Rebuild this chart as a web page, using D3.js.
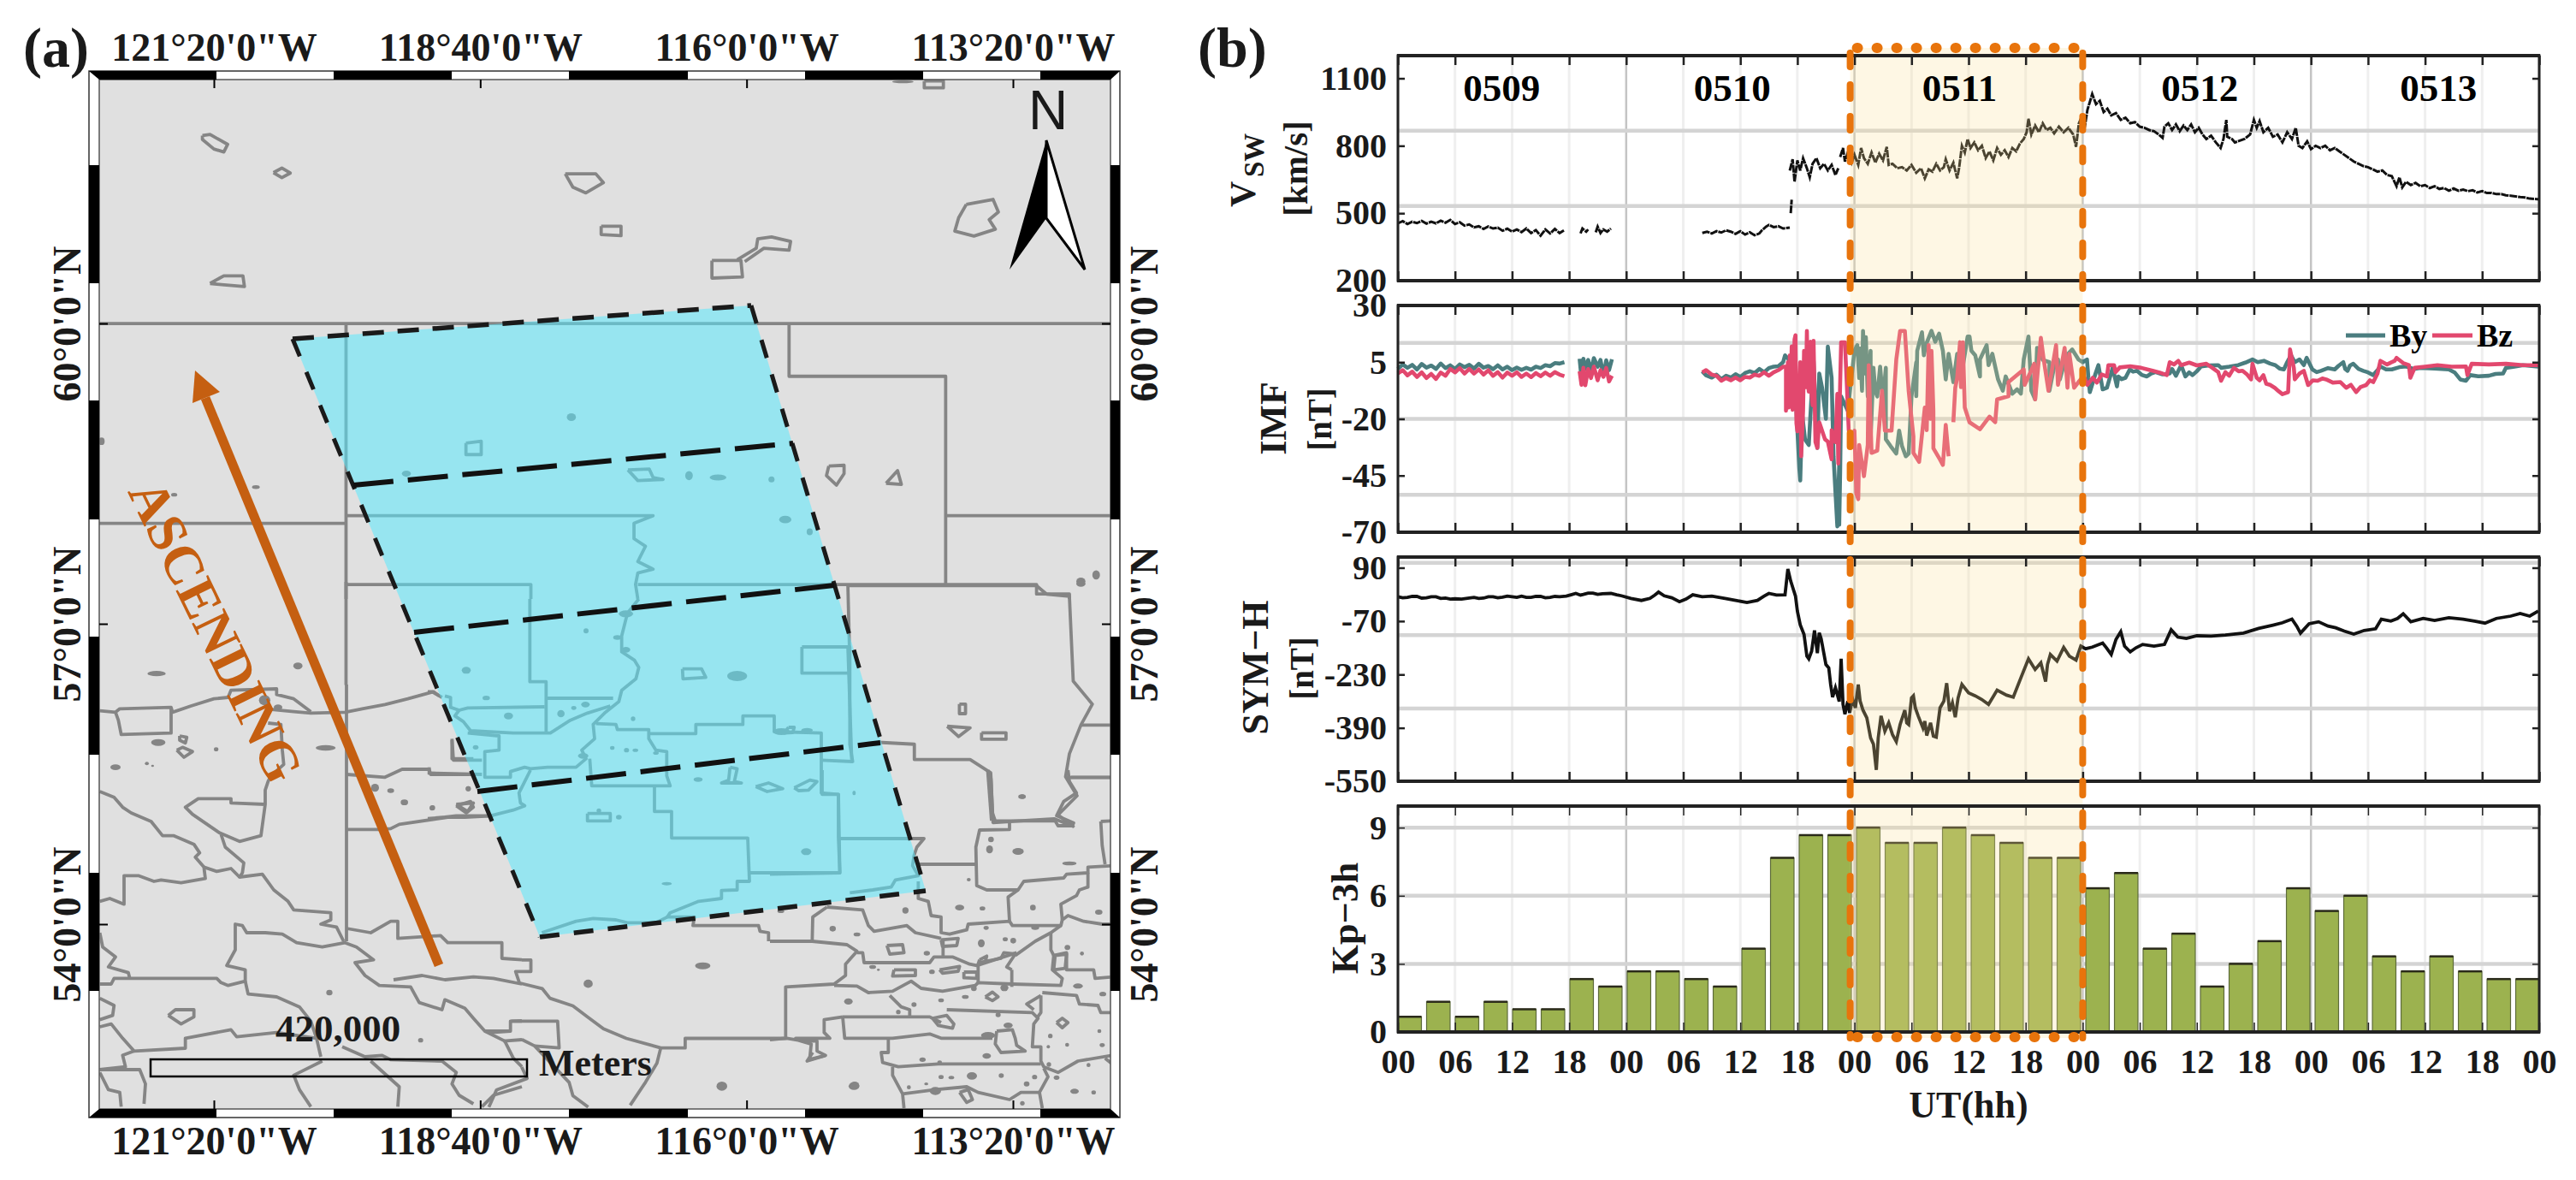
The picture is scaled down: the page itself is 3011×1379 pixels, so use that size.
<!DOCTYPE html>
<html><head><meta charset="utf-8">
<script src="https://cdn.jsdelivr.net/npm/d3@7/dist/d3.min.js"></script>
<style>html,body{margin:0;background:#fff}svg{display:block}text{font-family:"Liberation Serif",serif;font-weight:bold;fill:#1a1a1a}</style>
</head><body><svg id="c" width="3011" height="1379"></svg>
<script>
// ---------- panel (b) data ----------
const dayLabels=["0509","0510","0511","0512","0513"];
const dayCentres=[10.9,35.15,59.06,84.3,109.4];
const hourTicks=[0,6,12,18,24,30,36,42,48,54,60,66,72,78,84,90,96,102,108,114,120];
const hourLabels=["00","06","12","18"];
const highlightHours=[48,72];
const kpValues=[0.67,1.33,0.67,1.33,1,1,2.33,2,2.67,2.67,2.33,2,3.67,7.67,8.67,8.67,9,8.33,8.33,9,8.67,8.33,7.67,7.67,6.33,7,3.67,4.33,2,3,4,6.33,5.33,6,3.33,2.67,3.33,2.67,2.33,2.33];
const vswTicks=[200,500,800,1100], vswGrid=[532,867];
const imfTicks=[-70,-45,-20,5,30], imfGrid=[-53.5,-20,13.5];
const symTicks=[-550,-390,-230,-70,90], symGrid=[-332,-112,105];
const kpTicks=[0,3,6,9], kpGrid=[3,6,9];
const vswSeries=[[0,455],[0.5,465],[1,452],[1.5,462],[2,456],[2.5,466],[3,454],[3.5,462],[4,455],[4.5,467],[5,458],[5.5,470],[6,452],[6.5,460],[7,445],[7.5,450],[8,437],[8.5,442],[9,430],[9.5,441],[10,432],[10.5,436],[11,422],[11.5,431],[12,418],[12.5,428],[13,416],[13.5,432],[14,412],[14.5,425],[15,400],[15.5,428],[16,410],[16.5,430],[17,412],[17.5,425],null,
[19.2,410],[19.4,432],[19.8,418],[20,428],null,[20.8,415],[21,440],[21.3,412],[21.6,428],[22,418],[22.4,432],null,
[32,412],[32.5,418],[33,410],[33.5,420],[34,414],[34.5,424],[35,418],[35.5,408],[36,420],[36.5,405],[37,415],[37.5,402],[38,410],[38.3,425],[38.7,440],[39,448],[39.5,438],[40,442],[40.5,432],[41.2,436],null,[41.3,500],[41.4,560],null,[41.2,690],[41.5,740],[41.7,640],[42,735],[42.3,690],[42.6,745],[43,700],[43.3,660],[43.6,720],[44,745],[44.4,700],[44.8,720],[45.2,690],[45.6,715],[46,670],[46.3,700],null,
[46.5,750],[46.8,790],[47,730],[47.3,770],[47.7,725],[48,760],[48.4,715],[48.7,790],[49,745],[49.4,720],[49.8,770],[50.2,725],[50.6,765],[51,735],[51.4,795],[51.6,715],[52,720],[52.5,700],[53,705],[53.5,690],[54,715],[54.5,680],[55,700],[55.4,655],[55.8,695],[56.2,685],[56.6,720],[57,690],[57.4,705],[57.6,740],[58,690],[58.4,725],[58.8,655],[59,700],[59.3,800],[59.6,770],[59.9,830],[60.2,790],[60.6,815],[61,780],[61.4,800],[61.8,745],[62.2,775],[62.6,735],[63,790],[63.4,760],[63.8,780],[64.2,750],[64.6,790],[65,775],[65.4,810],[65.8,830],[66.1,860],[66.3,920],[66.6,850],[67,890],[67.4,860],[67.8,900],[68.2,870],[68.6,880],[69,855],[69.5,885],[70,860],[70.5,880],[71,850],[71.3,795],[71.6,900],[71.9,930],[72.2,880],[72.5,960],[73,1030],[73.4,985],[73.8,1000],[74.2,950],[74.6,965],[75,935],[75.5,945],[76,915],[76.5,925],[77,900],[77.5,905],[78,885],[78.5,880],[79,870],[79.5,865],[80,850],[80.4,835],[80.6,885],[81,900],[81.4,870],[81.8,895],[82.2,865],[82.6,890],[83,870],[83.4,895],[83.8,860],[84.2,880],[84.6,850],[85,830],[85.5,845],[86,815],[86.5,790],[86.8,830],[87.1,915],[87.2,840],[87.7,830],[88,815],[89,830],[89.6,850],[90,915],[90.3,880],[90.6,910],[91,860],[91.5,880],[92,840],[92.5,850],[93,815],[93.5,860],[94,830],[94.4,880],[94.7,800],[95.1,790],[95.6,820],[96,785],[96.5,800],[97,790],[97.5,800],[98,780],[98.5,790],[99,775],[99.5,760],[100,745],[100.5,730],[101,720],[101.5,710],[102,705],[102.5,695],[103,685],[103.5,690],[104,670],[104.5,665],[105,620],[105.3,660],[105.6,615],[106,640],[106.5,625],[107,635],[107.5,620],[108,625],[108.5,612],[109,620],[109.5,608],[110,612],[110.5,600],[111,610],[111.5,600],[112,605],[112.5,598],[113,602],[113.5,592],[114,598],[114.5,590],[115,590],[115.5,585],[116,585],[116.5,580],[117,578],[117.5,575],[118,572],[118.5,570],[119,565],[120,562]];
const bySeries=[[0,2],[0.5,4],[1,2.5],[1.5,3.8],[2,1.8],[2.5,4.2],[3,2.6],[3.5,3.5],[4,2],[4.5,4.4],[5,2.4],[5.5,3.6],[6,2],[6.5,4],[7,2.8],[7.5,3.8],[8,2.2],[8.5,4.3],[9,2.6],[9.5,3.3],[10,1.9],[10.5,3.6],[11,1.8],[11.5,3],[12,1.5],[12.5,2.6],[13,1.6],[13.5,2.5],[14,1.7],[14.5,3],[15,2.4],[15.5,3.7],[16,3.2],[16.5,4.6],[17,4.4],[17.5,5],null,
[19.1,6.5],[19.3,-2],[19.5,6.5],[19.7,2],[20,6],[20.3,1],[20.6,6.8],[21,3],[21.3,6],[21.6,-1],[21.9,5.8],[22.2,1.5],[22.5,6.3],null,
[32,1],[32.4,-0.8],[33,-1.8],[33.5,-0.5],[34,-2.5],[34.5,-1],[35,-1.8],[35.5,-0.3],[36,-1.5],[36.5,0.2],[37,1],[37.5,0.2],[38,2],[38.5,0.6],[39,2.4],[39.5,3],[40,3.2],[40.5,5],[40.7,8],[41.1,6.2],[41.3,-6],[41.9,-16.4],[42.2,-41.6],[42.3,-47.2],[42.5,-17.7],[42.8,-29],[43.2,-31.5],[43.4,-16.4],[43.7,5.6],[44.1,-32.8],[44.3,0],[44.6,-6.3],[45,-20],[45.2,11.9],[45.6,-1.9],[45.8,-36.5],[46.2,-67.4],[46.4,-40],[46.4,-66.7],[46.5,-42.8],[46.6,-10.1],[47.3,-16.4],[48,10],[48.3,12.5],[48.5,-2],[48.6,11],[48.8,-7.6],[48.9,18.8],[49.1,0],[49.2,16],[49.4,-10.1],[49.7,10],[49.7,-29],[50,2.5],[50.2,-8],[50.4,-10.1],[50.7,3],[51,-12],[51.3,2.5],[51.3,-29],[51.8,-32],[52.4,-35.3],[52.7,-25.2],[53,-32],[53.4,-36.5],[53.7,-35.3],[54,-10],[54.5,5],[54.5,-10],[54.6,10],[55.1,18.2],[55.3,8],[55.5,12.5],[56.1,18.8],[56.5,14],[56.9,17.6],[57.3,10],[57.6,-2.6],[57.9,8.7],[58.4,-3.8],[58.8,8.7],[59.2,-2],[59.9,16.3],[60.1,16.3],[60.3,10],[60.7,8],[61.2,-1.3],[61.2,6.2],[61.9,12.5],[62.1,3.7],[62.5,8.7],[63.1,-2.6],[63.6,-7.6],[63.9,-1.3],[64.6,-8.9],[65.1,-7],[65.5,-8.9],[65.8,6.2],[66.3,16.3],[66.6,-7.6],[67,-11.4],[67.2,11.3],[67.8,6],[68.5,5],[68.5,-7.6],[69,3],[69.4,6.2],[69.6,-2.6],[70.3,8],[70.9,10.6],[71.55,6.2],[72,5],[72.45,6.2],[72.6,-2],[72.75,-8.2],[73.35,0],[73.65,3.7],[74.1,-7],[74.55,-6.3],[75.15,2.5],[75.6,-5.7],[75.75,-1.3],[76.1,-2.5],[76.5,-1.9],[76.95,1.8],[77.3,0.8],[77.7,1.2],[78.2,-0.6],[78.75,-1.3],[79.2,0],[79.65,0.6],[80.4,-0.4],[81.15,0],[81.4,2],[81.8,-1],[82.35,3.7],[82.8,-1.3],[83.2,0.5],[83.55,-0.7],[84,1],[84.45,3.1],[85.3,3.6],[86.25,3.7],[86.55,2.5],[87.4,3],[88.35,3.7],[89.1,4.8],[89.85,6.2],[90.4,5],[91.05,5.6],[91.7,4.4],[92.25,3.7],[92.7,2.2],[93.15,1.8],[93.5,5],[93.9,8.1],[94.3,5],[94.8,6.2],[95.25,3.7],[95.55,6.9],[96.15,1.8],[96.6,0.6],[97.05,1.2],[97.8,2.4],[98.5,1.8],[98.9,3.4],[99.4,5],[99.6,2],[99.85,1.2],[100.1,3.5],[100.45,4.3],[101,2],[101.5,1.2],[102,0.5],[102.55,-0.7],[102.9,1],[103.3,3.1],[103.9,1.8],[104.5,1.8],[105.3,2.8],[106,3.1],[106.8,2],[107.5,2.5],[109,2.2],[110.5,1.8],[111.1,0.5],[111.7,-2.6],[112.3,-3.2],[112.75,-0.7],[113.6,-1.2],[114.7,-1],[115.4,-0.2],[116.2,0],[116.5,2.5],[117.4,3],[118.3,3.7],[119.9,3]];
const bzSeries=[[0,0],[0.5,1.5],[1,-0.8],[1.5,0.8],[2,-1.5],[2.5,0.5],[3,-2],[3.5,-0.2],[4,-2.4],[4.5,0.4],[5,-1],[5.5,2],[6,0.5],[6.5,2.4],[7,0],[7.5,2],[8,0],[8.5,1.8],[9,-0.5],[9.5,1.4],[10,-1],[10.5,0.6],[11,-1.8],[11.5,0.4],[12,-1],[12.5,0.5],[13,-1.5],[13.5,0],[14,-1.6],[14.5,0.2],[15,-1.2],[15.5,0.4],[16,-1],[16.5,0.6],[17,-0.5],[17.5,-1.2],null,
[19.1,1],[19.3,-5],[19.5,2.5],[19.7,-5.2],[20,2],[20.3,-2],[20.6,3],[21,-3],[21.3,1.5],[21.6,-1.5],[21.9,2.5],[22.2,-3.5],[22.5,-1],null,
[32,0.5],[32.4,1.5],[33,-0.5],[33.5,-1],[34,-3.2],[34.5,-2],[35,-3],[35.5,-1.8],[36,-3],[36.5,-1.5],[37,-1.8],[37.5,-0.5],[38,-1],[38.5,0.5],[39,-1],[39.5,0.5],[40,1.5],[40.5,3],[40.8,3],[40.8,-16.4],[41,5],[41.1,-15],[41.2,8],[41.3,-10],[41.4,12],[41.5,-16],[41.6,-14],[41.7,15],[41.8,16.9],[41.9,-22],[42,-25.5],[42.1,-20],[42.3,5],[42.4,-36.5],[42.6,-16.4],[42.7,10],[42.9,-6],[43,18.8],[43.1,-4],[43.2,-8],[43.3,12],[43.4,14],[43.5,-10],[43.6,-14],[43.7,14.4],[43.9,-30.2],[44.1,-32.8],[44.3,-21.5],[44.9,-29],[45.2,-30],[45.6,-37.8],[45.6,-25],[46,-30.2],[46.2,-9],[46.3,-39.7],[46.6,13.8],[47,13.8],[47.2,-5],[47.4,-25],[47.8,-29],[48,-25.2],[48.2,-52.9],[48.4,-55.4],[48.5,-31.5],[49,-45.3],[49.4,-31.5],[49.5,3.7],[49.8,-35],[50.4,-34],[50.9,-7.6],[51.2,-25.2],[51.9,-25.2],[52.4,6.2],[52.8,18.8],[53.3,18.8],[53.7,-7.6],[54.2,-27.7],[54.2,-35],[54.8,-39],[55.4,-15],[55.6,-25],[55.8,12.5],[56,-20],[56.1,10],[56.3,-16.5],[56.3,-33],[57,-38],[57.3,-40.3],[57.6,-22.7],[57.9,-36.5],null,[58.4,-21.5],[58.6,-6.3],[58.8,-2],[59.1,13.8],[59.2,-6],[59.4,13.8],[59.6,-15],[60.1,-21.5],[61.2,-24.6],[62.2,-19],[62.8,-21.5],[63,-11.4],[64.2,-10],[64.2,-3.8],[65.8,1.8],[65.9,-5],[66.9,4.3],[67,-11.4],[67.6,15.7],[67.9,6.2],[68.4,-7.6],[69.2,12.5],[69.4,-5],[70.1,11.3],[70.4,-6.3],[70.6,8.7],[71.1,-6.3],[71.55,-3.8],[72.1,-1],[72.5,-5],[73.05,-1.9],[73.5,-4],[74,-0.4],[74.55,-1.3],[74.7,3.7],[75.3,3.7],[75.45,0.6],[75.9,2.7],[77,3.2],[78.15,2.5],[78.8,1.8],[79.35,1.2],[80.1,0.4],[80.85,-0.7],[81.15,5],[81.6,4],[82.05,5.6],[82.35,3.7],[83.2,4.8],[84,3.6],[85,4.3],[85.6,2.6],[86.25,0.6],[86.55,-3.2],[87,0.6],[87.4,-1],[87.9,2.5],[88.4,1],[88.8,1.2],[89.3,-0.5],[89.7,-2.6],[89.85,4.3],[90.3,-1.9],[90.6,-3],[91,-0.7],[91.3,-4.5],[91.7,-5],[92.2,-6.3],[92.6,-7.8],[93,-9.1],[93.6,-8.2],[93.8,10.6],[94.2,2.5],[94.3,-2.6],[94.8,0],[95.25,1.2],[95.7,-5.1],[96.2,-3],[96.7,-3.2],[97.2,-2.2],[97.6,-2.6],[98.3,-4],[99.1,-3.8],[99.7,-6.3],[100.2,-5],[100.75,-8.2],[101.2,-6],[101.8,-5.1],[102.2,-3],[102.55,-3.8],[103,0],[103.3,5.6],[104,4],[104.8,5.6],[105,6.9],[105.7,4.6],[106.3,3.7],[106.45,-1.9],[106.9,2.5],[108,3],[109.3,3.7],[110.8,3],[112.3,3.1],[112.45,-0.7],[112.9,4.3],[114.7,4],[116.5,4.3],[118.3,3.7],[119.9,3.7]];
const symSeries=[[0,3],[0.5,0],[1,1],[1.5,4],[2,4],[2.5,-1],[3,0],[3.5,3],[4,3],[4.5,-2],[5,-1],[5.5,-4],[6,-3],[6.7,-4],[7.5,-1],[8,1],[8.5,-2],[9,-1],[9.5,3],[10,3],[10.5,0],[11,2],[11.5,5],[12,3],[12.5,1],[13,5],[13.5,1],[14,1],[14.5,4],[15,4],[15.5,0],[16,1],[16.5,4],[17,3],[17.7,5],[18.2,9],[18.7,13],[19.2,8],[19.5,10],[20,14],[20.5,14],[21,10],[21.5,12],[22.4,13],[23,9],[23.5,6],[24.5,-2],[25.6,-8],[26.5,-2],[27,8],[27.4,17],[28,6],[28.8,0],[29.6,-12],[30.3,-4],[31,9],[32,3],[33,5],[34.4,-2],[35.5,-8],[36.7,-14],[37.8,-8],[38.5,5],[39,13],[39.8,8],[40.7,9],[41,86],[41.3,50],[41.8,5],[42,-40],[42.3,-81],[42.7,-110],[43,-175],[43.2,-183],[43.5,-160],[43.8,-98],[44.1,-166],[44.3,-105],[44.5,-123],[45,-200],[45.3,-210],[45.5,-260],[45.7,-298],[46,-270],[46.4,-311],[46.6,-183],[46.8,-320],[47,-349],[47.3,-310],[47.5,-345],[47.8,-303],[48.1,-330],[48.4,-260],[48.6,-310],[48.9,-337],[49.3,-360],[49.7,-420],[50,-439],[50.3,-516],[50.5,-420],[50.8,-354],[51.2,-400],[51.6,-375],[52,-410],[52.4,-431],[52.8,-380],[53.3,-337],[53.5,-375],[53.7,-380],[54,-300],[54.2,-294],[54.4,-330],[54.7,-354],[55.2,-390],[55.4,-370],[55.6,-413],[56,-375],[56.3,-415],[56.6,-418],[57,-330],[57.4,-310],[57.7,-256],[58,-340],[58.3,-315],[58.6,-358],[58.9,-300],[59.3,-260],[60,-285],[60.7,-294],[61.4,-305],[62.1,-320],[63,-277],[64,-292],[64.7,-298],[65.5,-240],[66.3,-183],[67,-215],[67.6,-195],[68.1,-251],[68.3,-200],[68.6,-170],[69.3,-190],[70,-149],[70.6,-175],[71.3,-187],[71.8,-145],[72.3,-153],[73,-148],[74.1,-136],[74.5,-150],[75,-170],[75.5,-125],[76,-102],[76.4,-145],[77,-162],[77.6,-150],[78.3,-140],[79.5,-145],[80.6,-140],[81.3,-96],[82,-118],[82.9,-122],[84,-114],[85.5,-115],[87,-112],[88.9,-106],[90.5,-92],[92,-82],[93,-75],[94,-64],[94.5,-85],[94.9,-106],[95.8,-78],[96.8,-72],[97.8,-85],[98.6,-90],[99.5,-100],[100.5,-109],[101.6,-98],[102.8,-93],[103.4,-64],[104.4,-70],[105.1,-62],[105.7,-48],[106.5,-72],[107.8,-62],[109,-68],[110.5,-60],[112,-64],[113.2,-70],[114.3,-76],[115.5,-62],[117,-55],[118,-47],[119,-55],[119.9,-40]];

// ---------- panel (a) data: map grid readings, grouped by map sheet ----------
const lonTicks=[-121.3333,-118.6667,-116,-113.3333], lonLabels=["121°20'0\"W","118°40'0\"W","116°0'0\"W","113°20'0\"W"];
const latTicks=[60,57,54], latLabels=["60°0'0\"N","57°0'0\"N","54°0'0\"N"];
const swathCorners=[[342,396],[878,357],[1082,1041],[631,1095]];
const swathDividers=[[[413,567],[927,518]],[[484,739],[975,684]],[[558,925],[1029,868]]];
const arrowPath=[[513,1128],[240,465]];
const northSheetLines=[
[[130,847],[1454,847]],[[453,847],[453,1568]],[[1033,847],[1033,985],[1238,985],[1238,1530]],[[1238,1350],[1454,1350]],[[130,1370],[453,1370]],
[[453,1350],[855,1350],[830,1370],[830,1410],[845,1430],[835,1470],[855,1490],[835,1500],[832,1530],[835,1568]],[[453,1530],[695,1530],[695,1568]],[[835,1530],[1357,1530],[1357,1555],[1400,1555],[1400,1568]]];
const northSheetLakes=[[[265,355],[275,352],[298,378],[293,398],[280,390],[265,365],[265,355]],[[358,452],[369,440],[380,453],[369,465],[358,452]],[[740,455],[780,455],[790,478],[767,505],[750,490],[740,455]],[[787,592],[813,592],[813,617],[787,614],[787,592]],[[275,742],[293,722],[318,722],[320,750],[290,745],[275,742]],[[932,682],[970,682],[972,725],[932,728],[932,682]],[[965,680],[990,650],[992,625],[1010,620],[1035,632],[1033,655],[1000,650],[975,685]],[[1265,535],[1300,522],[1307,555],[1295,575],[1303,600],[1275,618],[1250,605],[1255,570],[1265,535]],[[610,1160],[630,1155],[630,1190],[610,1190],[610,1160]],[[822,1230],[850,1228],[855,1250],[868,1255],[835,1258],[822,1230]],[[1085,1220],[1105,1218],[1105,1240],[1095,1270],[1082,1245],[1085,1220]],[[1160,1265],[1175,1232],[1180,1268],[1160,1265]],[[1210,212],[1235,212],[1235,230],[1210,230],[1210,212]]];
const northSheetBlobs=[[748,1092,6,10],[532,1240,6,8],[902,1245,5,12],[940,1250,11,8],[1010,1255,4,8],[1028,1360,8,10],[1060,1392,4,9],[335,1275,5,5],[228,1295,4,5],[133,1155,4,10],[1415,1522,6,10],[1435,1505,5,12],[1182,214,14,4]];
const midSheetLines=[[[453,0],[453,270]],[[1110,10],[1112,170]],[[1110,10],[1357,10],[1370,32],[1400,38],[1405,260],[1430,320],[1415,375],[1400,450],[1395,510],[1410,560],[1385,610],[1405,640],[1380,620],[1300,630],[1297,500],[1270,465],[1197,465],[1197,425],[1150,420]],[[1415,375],[1454,375]],[[1397,512],[1454,512]],[[1110,170],[1115,465]],[[1293,493],[1298,625]],
[[683,990],[695,990],[695,1020],[675,1020],[680,1050],[710,1065],[720,1090],[750,1110],[770,1140],[790,1170],[820,1195],[865,1220],[897,1220],[897,1195],[1030,1195],[1045,1200],[1062,1210],[1060,1250],[1080,1240]],[[683,1149],[670,1150],[730,1150],[732,1220],[700,1215]],[[668,1176],[640,1180]],[[683,1198],[700,1215],[745,1310],[750,1345],[770,1375]],[[683,1270],[690,1300],[650,1330],[640,1375]],[[865,1220],[860,1260],[845,1310],[825,1370]]];
const midSheetLakes=[[[1256,320],[1264,320],[1264,345],[1256,345],[1256,320]],[[1240,378],[1270,382],[1255,405],[1240,378]],[[1285,395],[1317,395],[1317,412],[1285,412],[1285,395]]];
const midSheetBlobs=[[1338,562,5,6],[205,240,12,7],[390,220,6,9],[920,1005,10,9],[770,1052,6,11],[945,1320,7,12],[1118,1320,7,10],[1415,5,6,8]];
const swSheetLines=[[[885,0],[885,900]],[[20,92],[75,97],[90,85],[270,80],[275,97],[340,75],[420,50],[470,45],[480,20],[640,15],[640,35],[700,50],[760,95]],[[600,85],[700,95],[760,100],[880,97],[940,85],[1020,70],[1100,50],[1190,25],[1210,40]],[[75,97],[85,125],[95,175],[270,170],[270,80]],[[610,135],[655,140],[660,230],[665,280],[620,320],[610,340],[600,370],[600,420],[585,530],[510,550],[440,520],[345,455],[320,430],[365,400],[480,400],[480,415],[600,420]],[[445,525],[460,570],[525,625],[520,660],[510,675],[590,665],[630,720],[680,760],[700,790],[830,800],[830,825],[795,840],[850,850],[875,900]],[[20,375],[70,395],[100,430],[130,450],[200,480],[240,530],[280,530],[350,560],[370,590],[355,605],[385,640],[390,680],[305,695],[235,685],[210,690],[155,670],[105,670],[105,770],[55,750],[20,760]],[[385,640],[430,655],[480,645],[510,675]],[[20,870],[30,920],[75,955],[50,990],[120,1010],[125,1030]],[[20,1050],[60,1050],[70,1030],[430,1030],[445,1045],[470,1055],[530,1040],[530,1000],[465,985],[495,930],[495,840],[520,845],[535,870],[600,870],[660,875],[710,905],[800,920],[880,905],[920,920],[980,965],[915,975],[950,1020],[1000,1055],[1110,1060],[1140,1115],[1220,1140],[1230,1105],[1300,1135],[1330,1170],[1370,1215],[1460,1215],[1460,1180],[1500,1180]],[[530,1040],[540,1085],[640,1095],[720,1130],[760,1180],[780,1240],[795,1305]],[[1050,1035],[1150,1020],[1230,1035],[1330,1025],[1400,1030],[1500,1050]],[[885,855],[970,870],[1040,830],[1065,830],[1065,890],[1215,880],[1240,905],[1430,905],[1430,960],[1500,965]],[[885,315],[1020,325],[1080,297],[1175,297],[1180,315],[1330,315]],[[885,508],[1000,508],[1040,505],[1070,490],[1240,465],[1300,465],[1400,460]],[[20,1100],[70,1125],[65,1160],[20,1175]],[[20,1200],[60,1190],[100,1240],[140,1285],[320,1275],[320,1240],[480,1210],[500,1235],[640,1220],[780,1240]],[[140,1285],[100,1300],[110,1340],[20,1350]],[[20,1350],[160,1350],[180,1400],[175,1470]],[[20,1360],[50,1420],[90,1430],[95,1480]],[[870,1270],[950,1305],[1010,1300],[1040,1315],[1220,1320],[1270,1360],[1255,1400],[1280,1440],[1330,1470]],[[800,1320],[700,1370],[720,1420],[760,1480]],[[970,1320],[1070,1410],[1065,1480]],[[1500,1410],[1400,1440],[1360,1480]],[[1370,1215],[1440,1250],[1470,1310],[1500,1340]],[[1435,1250],[1500,1245]],[[1255,195],[1255,260],[1330,260]]];
const swSheetLakes=[[[260,1160],[285,1140],[350,1140],[350,1165],[305,1190],[260,1160]],[[290,230],[310,220],[345,235],[315,255],[290,230]],[[300,180],[325,185],[320,205],[300,195],[300,180]],[[1270,425],[1320,410],[1330,430],[1305,450],[1270,425]]];
const swSheetBlobs=[[225,203,25,12],[75,290,18,10],[428,227,8,7],[185,277,7,6],[205,285,5,4],[812,222,35,10],[598,55,20,18],[645,80,15,10],[985,362,14,14],[1040,372,12,8],[1088,413,13,10],[1187,432,9,9],[1312,365,9,9],[825,1080,11,10],[1145,1247,9,8]];
const centreSheetLines=[[[358,0],[358,290],[415,290],[415,465]],[[420,348],[650,348]],[[740,0],[700,50],[680,130],[680,185],[725,215],[740,240],[730,280],[680,320],[670,360],[620,400],[580,440],[585,490],[540,530],[555,560],[520,590],[420,590],[360,595],[340,590],[290,605],[290,625],[200,625],[200,535],[250,530],[250,480],[140,470]],[[640,375],[560,400],[500,425],[430,470],[300,470],[150,462],[125,430],[95,410],[110,390],[80,380],[80,345],[60,340]],[[110,390],[140,382],[410,378]],[[360,600],[340,640],[320,680],[325,715],[340,725],[300,740],[220,760],[100,760],[60,765],[0,770]],[[590,437],[660,440],[665,458],[775,458],[775,490],[800,530],[838,535],[838,620],[850,655],[575,655],[568,560]],[[780,472],[940,472],[940,440],[1105,440],[1105,410],[1215,410],[1215,465],[1380,470],[1380,680],[1440,685],[1445,960],[1130,960]],[[795,655],[795,745],[855,745],[855,838],[1122,838],[1128,990],[1085,990],[1085,1020],[1030,1022],[1030,1050],[950,1060],[850,1100],[840,1115],[935,1115],[930,1145],[1160,1145],[1165,1165],[1195,1170],[1195,1200]],[[1312,168],[1480,168],[1480,260],[1312,260],[1312,168]],[[1480,260],[1480,510],[1490,570],[1380,565]],[[1445,840],[1500,840]],[[400,1170],[520,1130],[580,1120],[660,1125],[700,1135],[800,1135],[840,1115]],[[85,490],[90,565],[190,565]],[[0,610],[190,615]],[[5,590],[5,615]],[[0,325],[15,325],[50,345]]];
const centreSheetLakes=[[[893,245],[960,245],[975,275],[895,280],[893,245]],[[1265,450],[1285,450],[1280,468],[1250,470],[1265,450]],[[560,752],[640,752],[640,778],[560,778],[560,752]],[[1060,590],[1085,595],[1075,640],[1100,645],[1030,645],[1055,635],[1060,590]],[[1150,658],[1195,645],[1245,665],[1190,675],[1150,658]],[[1285,662],[1340,635],[1365,640],[1335,670],[1300,672],[1285,662]],[[100,720],[160,715],[140,745],[100,720]]];
const centreSheetBlobs=[[135,250,16,12],[205,347,13,8],[283,410,16,12],[555,112,9,9],[665,135,15,8],[695,178,15,10],[695,52,25,12],[467,402,13,13],[512,382,9,7],[553,370,15,10],[720,420,8,8],[647,522,8,7],[697,530,9,8],[728,530,10,6],[800,540,10,6],[168,520,10,8],[948,633,16,8],[1085,270,35,18],[670,765,10,8],[838,998,18,6],[1327,886,18,12],[1495,680,6,8],[1240,465,30,12],[1330,460,20,8],[545,550,18,10],[600,742,8,8],[15,733,9,9],[142,665,9,9]];
const seSheetLines=[[[183,0],[183,85],[240,85],[240,235],[245,360],[0,365]],[[245,240],[490,240],[540,240],[515,270],[505,300],[500,335],[520,370],[440,385],[425,410],[360,420],[280,430]],[[525,330],[725,330]],[[520,390],[520,450],[555,460],[565,510],[600,515],[600,570],[630,575],[690,560],[695,540],[840,530],[850,545],[1020,545],[1025,525],[1045,510],[1100,530],[1165,540],[1200,540]],[[765,0],[775,30],[780,150],[790,178],[1000,178],[1010,195],[1060,195],[1065,185],[1030,170],[1005,160],[1030,110],[1075,80],[1050,40],[1045,0]],[[1055,25],[1200,25]],[[840,178],[840,208],[735,210],[722,270],[725,405],[760,420],[870,420],[890,390],[1030,378],[1040,365],[1115,360],[1115,340],[1200,335]],[[1115,360],[1115,410],[1085,420],[1075,440],[1020,470],[1025,525]],[[870,420],[835,445],[840,530]],[[1160,180],[1200,178]],[[1160,180],[1165,265],[1175,330]],[[200,480],[150,515],[148,600],[0,600]],[[200,480],[325,490],[345,545],[365,565],[480,545],[510,570],[600,590]],[[148,600],[270,612],[305,635],[265,680],[265,720],[225,750],[55,760],[55,940],[0,945]],[[305,640],[325,640],[330,675],[560,675],[575,655],[640,655],[700,680],[725,685],[865,640]],[[607,590],[607,655]],[[225,755],[305,757],[345,780],[430,775],[495,740],[530,765],[605,775],[720,755],[730,745],[850,750],[1020,755],[1025,730],[990,700],[995,650],[1040,640],[1040,700],[1135,700],[1140,730],[1200,725]],[[985,570],[1020,545]],[[985,570],[985,630],[995,650]],[[860,650],[930,600],[985,570]],[[730,680],[730,745]],[[848,700],[848,760]],[[848,700],[830,690],[860,645],[820,640],[810,660],[730,675]],[[420,790],[460,830],[490,840],[490,865]],[[255,865],[560,865],[600,885]],[[620,840],[920,850],[940,870],[925,890],[920,970],[950,970],[950,1020],[960,1040],[1010,1060],[1080,1020],[1200,1000]],[[255,865],[190,875],[190,920],[210,940],[90,940],[130,950],[165,950],[165,985],[195,1000],[130,1020],[150,990]],[[255,865],[262,940],[430,940],[560,925],[600,940],[780,940]],[[415,945],[415,990],[390,990],[395,1025],[450,1040],[590,1030],[950,1030]],[[430,1040],[430,1070],[465,1135],[470,1185]],[[465,1135],[580,1120],[690,1110],[730,1130],[840,1155],[880,1130],[945,1130],[955,1185]],[[945,1130],[975,1075],[960,1045]],[[950,790],[900,820],[925,840]],[[955,780],[1075,790],[1085,820],[1150,825],[1160,850],[1200,850]],[[950,790],[950,850],[935,870]],[[1175,1010],[1200,1030]]];
const seSheetLakes=[[[410,615],[465,612],[470,640],[420,645],[410,615]],[[600,595],[660,590],[655,615],[605,618],[600,595]],[[735,665],[760,652],[755,672],[730,680],[735,665]],[[680,708],[725,708],[725,730],[680,728],[680,708]],[[435,700],[510,700],[510,720],[430,722],[435,700]],[[595,700],[665,688],[660,705],[605,712],[595,700]],[[755,795],[780,778],[800,795],[780,808],[755,795]],[[1005,885],[1025,870],[1045,885],[1025,903],[1005,885]],[[795,915],[850,910],[860,940],[865,965],[895,985],[810,990],[790,960],[795,915]],[[570,870],[620,860],[645,890],[640,905],[590,895],[570,870]],[[665,1130],[695,1120],[710,1155],[690,1165],[665,1130]],[[1000,650],[1040,645],[1035,695],[995,700],[1000,650]]];
const seSheetBlobs=[[885,93,10,8],[775,243,10,10],[770,278,12,14],[870,285,20,12],[1050,327,25,7],[697,384,7,6],[665,482,16,10],[745,485,10,7],[922,482,10,10],[1153,498,13,9],[475,492,11,11],[220,556,11,10],[305,576,12,7],[758,553,9,7],[825,593,9,7],[853,598,10,10],[741,607,12,14],[550,642,11,8],[1043,622,10,9],[1094,643,7,7],[360,690,12,7],[380,700,5,4],[568,707,10,8],[1080,757,17,9],[1167,785,12,8],[275,811,15,11],[600,807,10,7],[685,795,12,7],[505,822,9,8],[450,848,8,8],[822,763,14,12],[715,765,10,10],[800,858,9,8],[1155,915,7,7],[983,932,8,8],[976,970,6,6],[1042,963,7,7],[1165,964,9,7],[760,1002,15,10],[535,1015,11,8],[595,1025,8,7],[978,1032,8,8],[1117,1034,7,7],[297,1105,16,13],[487,1112,7,7],[548,1100,7,5],[600,1076,9,7],[636,1078,10,6],[708,1072,18,13],[811,1071,9,8],[900,1100,10,9],[928,1076,9,8],[1005,1078,10,8],[1068,1126,15,9],[1135,1130,8,7],[885,1168,8,8],[580,1125,20,14],[930,552,14,8],[38,495,12,6],[765,930,25,12],[835,895,16,10]];

// ---------- drawing ----------
const svg=d3.select("#c");
const GREY="#858585", ORANGE="#C55F11", DASHO="#E8740C";
const mapBox={l:116,r:1298,t:93,b:1296}, outer={l:104,r:1309,t:83,b:1306};
const gridX=d3.scaleLinear().domain([116,1298]).range([116,1298]), gridY=d3.scaleLinear().domain([93,1296]).range([93,1296]);
svg.append("clipPath").attr("id","mapclip").append("rect").attr("x",mapBox.l).attr("y",mapBox.t).attr("width",mapBox.r-mapBox.l).attr("height",mapBox.b-mapBox.t);
svg.append("rect").attr("x",mapBox.l).attr("y",mapBox.t).attr("width",mapBox.r-mapBox.l).attr("height",mapBox.b-mapBox.t).attr("fill","#E0E0E0");
const mapG=svg.append("g").attr("clip-path","url(#mapclip)");
const sheets=[
 {lines:northSheetLines,lakes:northSheetLakes,blobs:northSheetBlobs,x:[[0,1568],[0,1400]],y:[[0,1568],[0,700]]},
 {lines:midSheetLines,lakes:midSheetLakes,blobs:midSheetBlobs,x:[[0,1568],[0,1400]],y:[[0,1568],[680,1380]]},
 {lines:swSheetLines,lakes:swSheetLakes,blobs:swSheetBlobs,x:[[0,1500],[110,610]],y:[[0,1500],[800,1300]]},
 {lines:centreSheetLines,lakes:centreSheetLakes,blobs:centreSheetBlobs,x:[[0,1500],[500,1000]],y:[[0,1200],[700,1100]]},
 {lines:seSheetLines,lakes:seSheetLakes,blobs:seSheetBlobs,x:[[0,1200],[900,1300]],y:[[0,1200],[900,1300]]}];
sheets.forEach(s=>{
  const sx=d3.scaleLinear().domain(s.x[0]).range(s.x[1]), sy=d3.scaleLinear().domain(s.y[0]).range(s.y[1]);
  const ln=d3.line().x(d=>sx(d[0])).y(d=>sy(d[1]));
  mapG.append("g").selectAll("path").data(s.lines.concat(s.lakes)).join("path").attr("d",ln).attr("fill","none").attr("stroke",GREY).attr("stroke-width",3.8).attr("stroke-linejoin","round");
  const kx=(s.x[1][1]-s.x[1][0])/(s.x[0][1]-s.x[0][0]), ky=(s.y[1][1]-s.y[1][0])/(s.y[0][1]-s.y[0][0]);
  mapG.append("g").selectAll("ellipse").data(s.blobs).join("ellipse").attr("cx",d=>sx(d[0])).attr("cy",d=>sy(d[1])).attr("rx",d=>d[2]*kx).attr("ry",d=>d[3]*ky).attr("fill",GREY);
});
const gl=d3.line().x(d=>gridX(d[0])).y(d=>gridY(d[1]));
mapG.append("path").attr("d",gl(swathCorners)+"Z").attr("fill","rgb(86,234,255)").attr("fill-opacity",.53);
const tb=[[swathCorners[0],swathCorners[1],25,16],[swathCorners[3],swathCorners[2],23,17]];
tb.forEach(d=>mapG.append("path").attr("d",gl([d[0],d[1]])).attr("stroke","#1a1a1a").attr("stroke-width",5.5).attr("fill","none").attr("stroke-dasharray",d[2]+" "+d[3]));
[[swathCorners[0],swathCorners[3]],[swathCorners[1],swathCorners[2]]].forEach(d=>mapG.append("path").attr("d",gl(d)).attr("stroke","#1a1a1a").attr("stroke-width",5).attr("fill","none").attr("stroke-dasharray","22 20"));
mapG.selectAll(".div").data(swathDividers).join("path").attr("d",gl).attr("stroke","#111").attr("stroke-width",6).attr("fill","none").attr("stroke-dasharray","47 17");
// track arrow
mapG.append("path").attr("d",gl(arrowPath)).attr("stroke",ORANGE).attr("stroke-width",11).attr("fill","none");
mapG.append("path").attr("d",gl([[228,433],[225,471],[257,458]])+"Z").attr("fill",ORANGE);
svg.append("text").attr("transform","translate(233,747) rotate(64)").attr("text-anchor","middle").attr("font-size",64).style("fill",ORANGE).text("ASCENDING");
// north arrow
svg.append("text").attr("x",1225).attr("y",151).attr("text-anchor","middle").style("font-family","Liberation Sans").style("font-weight","normal").attr("font-size",64).text("N");
svg.append("path").attr("d",gl([[1223,164],[1180,315],[1223,255]])+"Z").attr("fill","#000");
svg.append("path").attr("d",gl([[1223,164],[1268,315],[1223,255]])+"Z").attr("fill","#fff").attr("stroke","#000").attr("stroke-width",3);
// scale bar
svg.append("rect").attr("x",176).attr("y",1238).attr("width",440).attr("height",20).attr("fill","none").attr("stroke","#000").attr("stroke-width",2.5);
svg.append("text").attr("x",395).attr("y",1217).attr("text-anchor","middle").attr("font-size",45).text("420,000");
svg.append("text").attr("x",630).attr("y",1257).attr("font-size",44).text("Meters");
// checker frame
const topBreaks=[104,253,390,528,665,804,941,1079,1216,1309];
const sideBreaks=[83,193,331,468,607,744,882,1020,1158,1306];
svg.append("rect").attr("x",outer.l).attr("y",outer.t).attr("width",outer.r-outer.l).attr("height",outer.b-outer.t).attr("fill","none").attr("stroke","#333").attr("stroke-width",1.5);
svg.append("rect").attr("x",mapBox.l).attr("y",mapBox.t).attr("width",mapBox.r-mapBox.l).attr("height",mapBox.b-mapBox.t).attr("fill","none").attr("stroke","#555").attr("stroke-width",1.5);
d3.pairs(topBreaks).forEach((p,i)=>{ if(i%2) return; [[outer.t,mapBox.t],[outer.b,mapBox.b]].forEach(([o,n])=>{
  const a=Math.max(p[0],p[0]===outer.l?mapBox.l:p[0]), b=p[1]===outer.r?mapBox.r:p[1];
  svg.append("path").attr("d",gl([[p[0],o],[p[1],o],[b,n],[a,n]])+"Z").attr("fill","#000");
});});
d3.pairs(sideBreaks).forEach((p,i)=>{ if(!(i%2)) return; [[outer.l,mapBox.l],[mapBox.r,outer.r]].forEach(([a,b])=>{
  svg.append("rect").attr("x",a).attr("y",p[0]).attr("width",b-a).attr("height",p[1]-p[0]).attr("fill","#000");
});});
// graticule axes
const lonScale=d3.scaleLinear().domain([-121.3333,-113.3333]).range([250,1184]);
const latScale=d3.scaleLinear().domain([60,54]).range([378,1080]);
const styleMapAxis=g=>{g.attr("font-family",null).attr("font-size",null);g.select(".domain").remove();g.selectAll("line").attr("stroke","#000").attr("stroke-width",2);g.selectAll("text").attr("font-size",46).attr("fill",null);};
svg.append("g").attr("transform",`translate(0,${mapBox.t})`).call(d3.axisTop(lonScale).tickValues(lonTicks).tickSize(-10).tickPadding(22).tickFormat((d,i)=>lonLabels[i])).call(styleMapAxis);
svg.append("g").attr("transform",`translate(0,${mapBox.b})`).call(d3.axisBottom(lonScale).tickValues(lonTicks).tickSize(-10).tickPadding(53).tickFormat((d,i)=>lonLabels[i])).call(styleMapAxis).call(g=>g.selectAll("text").attr("dy",0));
[[mapBox.l,-22,d3.axisLeft],[mapBox.r,55,d3.axisRight]].forEach(([x,off,ax])=>{
 svg.append("g").attr("transform",`translate(${x},0)`).call(ax(latScale).tickValues(latTicks).tickSize(-10).tickFormat((d,i)=>latLabels[i])).call(styleMapAxis)
  .call(g=>g.selectAll("text").attr("x",0).attr("dy",0).attr("text-anchor","middle").attr("transform",`translate(${off},0) rotate(-90)`));
});
svg.append("text").attr("x",27).attr("y",78).attr("font-size",66).text("(a)");
svg.append("text").attr("x",1400).attr("y",78).attr("font-size",66).text("(b)");

// ---------- panel (b) ----------
const timeX=d3.scaleLinear().domain([0,120]).range([1634,2968]);
const panels=[
 {top:65,bot:328,dom:[200,1201],ticks:vswTicks,grid:vswGrid},
 {top:357,bot:622,dom:[-70,30],ticks:imfTicks,grid:imfGrid},
 {top:651,bot:913,dom:[-550,122],ticks:symTicks,grid:symGrid},
 {top:942,bot:1206,dom:[0,9.95],ticks:kpTicks,grid:kpGrid}];
panels.forEach(p=>{p.y=d3.scaleLinear().domain(p.dom).range([p.bot,p.top]);});
panels.forEach(p=>{
  const g=svg.append("g");
  g.selectAll(".vg").data(hourTicks).join("line").attr("x1",timeX).attr("x2",timeX).attr("y1",p.top).attr("y2",p.bot)
   .attr("stroke",d=>d%24===0?"#c4c4c4":"#efefef").attr("stroke-width",d=>d%24===0?2.5:3);
  g.selectAll(".hg").data(p.grid).join("line").attr("x1",timeX(0)).attr("x2",timeX(120)).attr("y1",p.y).attr("y2",p.y).attr("stroke","#d4d4d4").attr("stroke-width",4.5);
});
const path=(y)=>d3.line().defined(d=>d).x(d=>timeX(d[0])).y(d=>y(d[1]));
svg.append("path").attr("d",path(panels[0].y)(vswSeries)).attr("fill","none").attr("stroke","#111").attr("stroke-width",3).attr("stroke-dasharray","9 1");
svg.append("path").attr("d",path(panels[1].y)(bySeries)).attr("fill","none").attr("stroke","#4A7D7F").attr("stroke-width",4.6).attr("stroke-linejoin","round");
svg.append("path").attr("d",path(panels[1].y)(bzSeries)).attr("fill","none").attr("stroke","#E2486E").attr("stroke-width",4.6).attr("stroke-linejoin","round");
svg.append("path").attr("d",path(panels[2].y)(symSeries)).attr("fill","none").attr("stroke","#111").attr("stroke-width",3.8);
const kpX=d3.scaleBand().domain(d3.range(kpValues.length)).range([1634,2968]).paddingInner(.18).paddingOuter(0);
const kpY=panels[3].y;
svg.append("g").selectAll("rect").data(kpValues).join("rect").attr("x",(d,i)=>kpX(i)).attr("width",kpX.bandwidth()).attr("y",kpY).attr("height",d=>kpY(0)-kpY(d)).attr("fill","#9CB24F").attr("stroke","#5d6b3a").attr("stroke-width",1.2);
svg.append("g").selectAll("line").data(kpValues).join("line").attr("x1",(d,i)=>kpX(i)).attr("x2",(d,i)=>kpX(i)+kpX.bandwidth()).attr("y1",kpY).attr("y2",kpY).attr("stroke","#2a2a1a").attr("stroke-width",2.5);
// legend
const legG=svg.append("g");
[[2742,2788,"#4A7D7F","By",2793],[2843,2890,"#E2486E","Bz",2895]].forEach(([a,b,c,t,tx])=>{
  legG.append("line").attr("x1",a).attr("x2",b).attr("y1",392).attr("y2",392).attr("stroke",c).attr("stroke-width",5);
  legG.append("text").attr("x",tx).attr("y",405).attr("font-size",38).style("fill","#000").text(t);
});
// highlight
const hx0=timeX(highlightHours[0])-5, hx1=timeX(highlightHours[1]);
svg.append("rect").attr("x",hx0).attr("y",56).attr("width",hx1-hx0).attr("height",1157).attr("fill","rgb(250,224,148)").attr("fill-opacity",.25);
// day labels
svg.append("g").selectAll("text").data(dayLabels).join("text").attr("x",(d,i)=>timeX(dayCentres[i])).attr("y",118).attr("text-anchor","middle").attr("font-size",45).style("fill","#000").text(d=>d);
// frames & axes
panels.forEach((p,pi)=>{
  const g=svg.append("g");
  g.append("rect").attr("x",1634).attr("y",p.top).attr("width",1334).attr("height",p.bot-p.top).attr("fill","none").attr("stroke","#222").attr("stroke-width",3);
  [p.top,p.bot].forEach(y=>g.append("line").attr("x1",1633).attr("x2",2969).attr("y1",y).attr("y2",y).attr("stroke","#222").attr("stroke-width",4));
  const last=pi===3;
  const ax=g.append("g").attr("transform",`translate(0,${p.bot})`).call(d3.axisBottom(timeX).tickValues(hourTicks).tickSize(-11).tickPadding(last?33:0).tickFormat((d,i)=>last?hourLabels[i%4]:""));
  const ax2=g.append("g").attr("transform",`translate(0,${p.top})`).call(d3.axisTop(timeX).tickValues(hourTicks).tickSize(-11).tickFormat(""));
  const ay=g.append("g").attr("transform","translate(1634,0)").call(d3.axisLeft(p.y).tickValues(p.ticks).tickSize(-8).tickPadding(13).tickFormat(d=>d));
  const ay2=g.append("g").attr("transform","translate(2968,0)").call(d3.axisRight(p.y).tickValues(p.ticks).tickSize(-8).tickFormat(""));
  [ax,ax2,ay,ay2].forEach(a=>{a.attr("font-family",null).attr("font-size",null);a.select(".domain").remove();a.selectAll("line").attr("stroke","#222").attr("stroke-width",last?1.5:2.5);a.selectAll("text").attr("font-size",40).attr("fill",null);});
  ax.selectAll("text").attr("y",48).attr("dy",0);
});
// highlight dashed outline
const oL=(x1,y1,x2,y2,w,da)=>svg.append("line").attr("x1",x1).attr("y1",y1).attr("x2",x2).attr("y2",y2).attr("stroke",DASHO).attr("stroke-width",w).attr("stroke-dasharray",da).attr("stroke-linecap","round");
const hxa=hx0,hxb=hx1;
oL(hxa+8,56,hxb-6,56,12,"1 22");oL(hxa+8,1212,hxb-6,1212,12,"1 22");
oL(hxa,62,hxa,1213,8,"16 21");oL(hxb,62,hxb,1213,8,"16 21");
// axis titles
const rotT=(x,y,t,s)=>svg.append("text").attr("transform",`translate(${x},${y}) rotate(-90)`).attr("text-anchor","middle").attr("font-size",s).text(t);
svg.append("text").attr("transform","translate(1467,242) rotate(-90)").attr("font-size",42).text("V");
svg.append("text").attr("transform","translate(1477,207) rotate(-90)").attr("font-size",33).text("SW");
rotT(1528,197,"[km/s]",41);
rotT(1503,489,"IMF",44);rotT(1556,490,"[nT]",39);
rotT(1482,780,"SYM−H",44);rotT(1535,781,"[nT]",39);
rotT(1587,1073,"Kp−3h",44);
svg.append("text").attr("x",2301).attr("y",1306).attr("text-anchor","middle").attr("font-size",44).text("UT(hh)");
</script></body></html>
